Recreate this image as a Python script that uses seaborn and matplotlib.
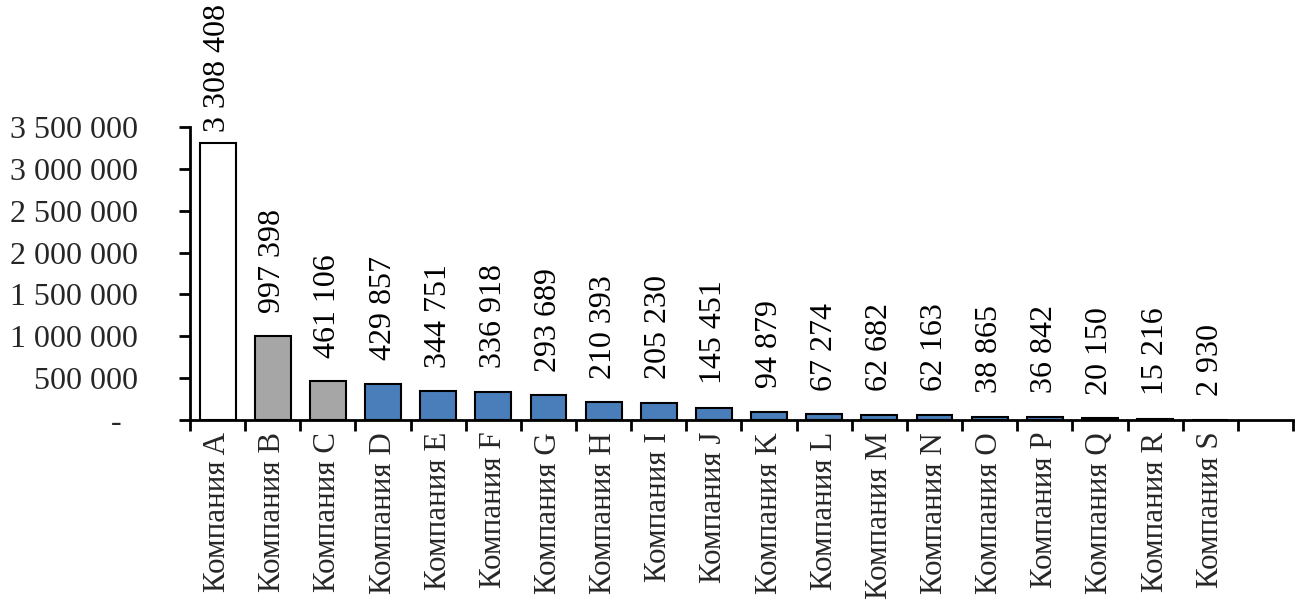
import matplotlib
matplotlib.use("Agg")
import matplotlib.pyplot as plt
import seaborn as sns
import pandas as pd
from matplotlib.ticker import FixedLocator, FuncFormatter

categories = ["Компания " + c for c in "ABCDEFGHIJKLMNOPQRS"]
values = [3308408, 997398, 461106, 429857, 344751, 336918, 293689, 210393,
          205230, 145451, 94879, 67274, 62682, 62163, 38865, 36842, 20150,
          15216, 2930]
bar_colors = ["#FFFFFF", "#A6A6A6", "#A6A6A6"] + ["#4A7EBB"] * 16
y_ticks = [0, 500000, 1000000, 1500000, 2000000, 2500000, 3000000, 3500000]

sns.set_theme(style="white")
plt.rcParams["font.family"] = ["Liberation Serif", "DejaVu Serif"]
FS = 23
FS_X = 22.3

df = pd.DataFrame({"company": categories, "value": values})

fig = plt.figure(figsize=(13.06, 6.01), dpi=100)
ax = fig.add_axes([0.1455, 0.3012, 0.8445, 0.4875])

sns.barplot(data=df, x="company", y="value", hue="company", palette=bar_colors,
            legend=False, width=0.65, edgecolor="black", linewidth=1.5,
            saturation=1, ax=ax)

def fmt(v):
    return f"{int(v):,}".replace(",", " ")

n_slots = len(categories) + 1
ax.set_xlim(-0.5, n_slots - 0.5)
ax.set_ylim(0, 3500000)

# value labels above the bars; a label that would leave the figure is pulled down
labels = []
for i, v in enumerate(values):
    t = ax.annotate(fmt(v), (i, v), xytext=(0, 17), textcoords="offset points",
                    rotation=90, ha="center", va="bottom", fontsize=FS,
                    color="black", annotation_clip=False)
    labels.append(t)

fig.canvas.draw()
renderer = fig.canvas.get_renderer()
fig_h = fig.bbox.height
for t in labels:
    bb = t.get_window_extent(renderer)
    overflow = bb.y1 - (fig_h - 4)
    if overflow > 0:
        off = t.xyann[1] - overflow * 72.0 / fig.dpi
        t.xyann = (0, max(off, 3))

ax.set_yticks(y_ticks)
ax.yaxis.set_major_formatter(FuncFormatter(
    lambda v, p: "-  " if v == 0 else fmt(v)))

ax.set_xticks(range(len(categories)))
ax.set_xticklabels(categories, rotation=90, fontsize=FS_X)
ax.xaxis.set_minor_locator(FixedLocator([k - 0.5 for k in range(n_slots + 1)]))

ax.tick_params(axis="x", which="major", length=0, pad=8.5)
ax.tick_params(axis="x", which="minor", length=8, width=2, color="black",
               direction="out", bottom=True)
ax.tick_params(axis="y", length=8, width=2, color="black", direction="out",
               left=True, labelsize=FS, pad=29.5)

for s in ["top", "right"]:
    ax.spines[s].set_visible(False)
for s in ["left", "bottom"]:
    ax.spines[s].set_color("black")
    ax.spines[s].set_linewidth(2)

ax.set_xlabel("")
ax.set_ylabel("")
ax.grid(False)

fig.savefig("out.png", dpi=100, facecolor="white")
